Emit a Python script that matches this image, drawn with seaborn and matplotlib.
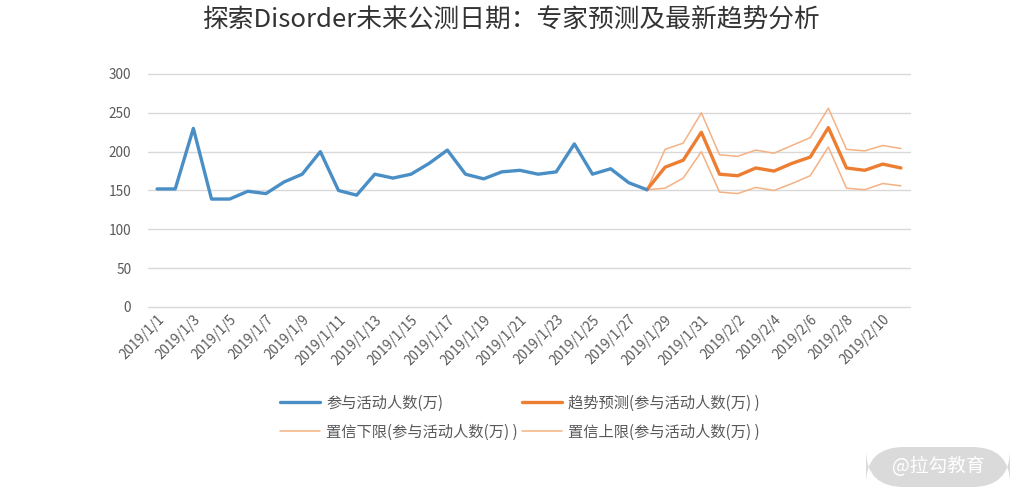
import matplotlib
matplotlib.use("Agg")
import matplotlib.pyplot as plt
import seaborn as sns
import pandas as pd
from matplotlib.patches import FancyBboxPatch
from matplotlib.lines import Line2D

# ---- data ----
date_strings = [f"2019-01-{d:02d}" for d in range(1, 32)] + [f"2019-02-{d:02d}" for d in range(1, 12)]
actual_values = [152, 152, 230, 139, 139, 149, 146, 161, 171, 200,
                 150, 144, 171, 166, 171, 185, 202, 171, 165, 174,
                 176, 171, 174, 210, 171, 178, 160, 151]
forecast_values = [151, 180, 189, 225, 171, 169, 179, 175, 185, 193, 231, 179, 176, 184, 179]
lower_values = [151, 153, 166, 200, 148, 146, 154, 150, 159, 169, 206, 153, 151, 159, 156]
upper_values = [151, 203, 211, 250, 196, 194, 202, 198, 208, 218, 256, 203, 201, 208, 204]
tick_labels = ["2019/1/1", "2019/1/3", "2019/1/5", "2019/1/7", "2019/1/9", "2019/1/11",
               "2019/1/13", "2019/1/15", "2019/1/17", "2019/1/19", "2019/1/21", "2019/1/23",
               "2019/1/25", "2019/1/27", "2019/1/29", "2019/1/31", "2019/2/2", "2019/2/4",
               "2019/2/6", "2019/2/8", "2019/2/10"]
series_names = ["参与活动人数(万)", "趋势预测(参与活动人数(万) )",
                "置信下限(参与活动人数(万) )", "置信上限(参与活动人数(万) )"]
title = "探索Disorder未来公测日期：专家预测及最新趋势分析"

dates = pd.to_datetime(date_strings)
n_act = len(actual_values)
df_act = pd.DataFrame({"date": dates[:n_act], "value": actual_values})
fc_dates = dates[n_act - 1:]
df_fc = pd.DataFrame({"date": fc_dates, "value": forecast_values})
df_lo = pd.DataFrame({"date": fc_dates, "value": lower_values})
df_hi = pd.DataFrame({"date": fc_dates, "value": upper_values})

sns.set_theme(style="white")
plt.rcParams["font.family"] = ["Noto Sans CJK SC", "DejaVu Sans"]

fig = plt.figure(figsize=(10.24, 5.0), dpi=100)
ax = fig.add_axes([148 / 1024, 1 - 307 / 500, (910 - 148) / 1024, (307 - 74) / 500])

blue = "#4A8EC6"
orange = "#ED7D31"
light_orange = "#F4B183"

sns.lineplot(data=df_lo, x="date", y="value", ax=ax, color=light_orange, linewidth=1.1)
sns.lineplot(data=df_hi, x="date", y="value", ax=ax, color=light_orange, linewidth=1.1)
sns.lineplot(data=df_fc, x="date", y="value", ax=ax, color=orange, linewidth=2.4)
sns.lineplot(data=df_act, x="date", y="value", ax=ax, color=blue, linewidth=2.4)

ax.set_ylim(0, 300)
ax.set_yticks([0, 50, 100, 150, 200, 250, 300])
ax.set_xlim(dates[0] - pd.Timedelta(hours=12), dates[-1] + pd.Timedelta(hours=12))
ax.set_xticks(dates[::2])
ax.set_xticklabels(tick_labels, rotation=45, ha="right", rotation_mode="anchor")
ax.set_xlabel("")
ax.set_ylabel("")
ax.grid(axis="y", color="#D9D9D9", linewidth=1.0)
ax.grid(axis="x", visible=False)
for gl in ax.get_ygridlines():
    gl.set_clip_on(False)
for s in ax.spines.values():
    s.set_visible(False)
ax.tick_params(axis="both", colors="#595959", labelsize=9.8, length=0)
ax.tick_params(axis="y", pad=12)
ax.tick_params(axis="x", pad=4)

fig.text(0.5, 0.958, title, ha="center", va="center", fontsize=18.5, color="#333333")

handles = [
    Line2D([], [], color=blue, linewidth=2.4),
    Line2D([], [], color=light_orange, linewidth=1.1),
    Line2D([], [], color=orange, linewidth=2.4),
    Line2D([], [], color=light_orange, linewidth=1.1),
]
labels = [series_names[0], series_names[2], series_names[1], series_names[3]]
leg = fig.legend(handles, labels, ncol=2, loc="center", bbox_to_anchor=(0.508, 0.165),
                 frameon=False, fontsize=11, handlelength=2.6, columnspacing=0.3,
                 labelspacing=0.8, handletextpad=0.4)
for t in leg.get_texts():
    t.set_color("#595959")

# watermark
box = FancyBboxPatch((866 / 1024, 1 - 487 / 500), (1010 - 866) / 1024, 40 / 500,
                     boxstyle="round,pad=0,rounding_size=0.037", transform=fig.transFigure,
                     facecolor="#D6D6D6", edgecolor="none", alpha=0.9, mutation_aspect=2.0)
fig.patches.append(box)
fig.text(938 / 1024, 1 - 467 / 500, "@拉勾教育", ha="center", va="center",
         fontsize=13.5, color="white")

fig.savefig("out.png", dpi=100)
